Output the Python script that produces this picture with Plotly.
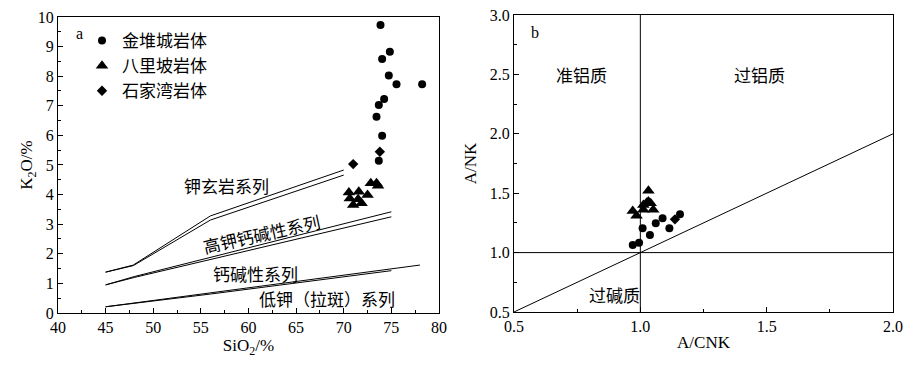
import plotly.graph_objects as go

# ---------------- data: panel a (SiO2 vs K2O) ----------------
jdc_sio2 = [73.86, 74.84, 74.03, 74.73, 75.54, 78.23, 74.24, 73.68, 73.44, 74.03, 73.68]
jdc_k2o = [9.73, 8.83, 8.58, 8.02, 7.73, 7.73, 7.23, 7.03, 6.63, 5.99, 5.14]
blp_sio2 = [72.84, 73.44, 73.6, 70.54, 71.58, 72.5, 70.64, 71.51, 71.87, 70.99]
blp_k2o = [4.38, 4.38, 4.30, 4.07, 4.10, 3.99, 3.87, 3.84, 3.71, 3.65]
sjw_sio2 = [70.99, 73.79]
sjw_k2o = [5.03, 5.45]

# boundary lines (double lines) of Peccerillo & Taylor diagram
sho_up_x = [45, 47.9, 56, 70]
sho_up_y = [1.38, 1.62, 3.28, 4.83]
sho_lo_x = [45, 47.9, 56, 70]
sho_lo_y = [1.38, 1.60, 3.14, 4.66]
hk_up_x = [45, 48, 75]
hk_up_y = [0.95, 1.23, 3.42]
hk_lo_x = [45, 48, 75]
hk_lo_y = [0.95, 1.20, 3.25]
lk_up_x = [45, 56, 78]
lk_up_y = [0.21, 0.68, 1.62]
lk_lo_x = [45, 56, 75]
lk_lo_y = [0.21, 0.64, 1.43]

series_names = ["金堆城岩体", "八里坡岩体", "石家湾岩体"]
field_labels_a = ["钾玄岩系列", "高钾钙碱性系列", "钙碱性系列", "低钾（拉斑）系列"]

# ---------------- data: panel b (A/CNK vs A/NK) ----------------
jdc_acnk = [0.97, 0.995, 1.009, 1.038, 1.061, 1.088, 1.115, 1.157]
jdc_ank = [1.064, 1.083, 1.205, 1.148, 1.247, 1.289, 1.205, 1.322]
blp_acnk = [0.97, 0.985, 1.032, 1.025, 1.041, 1.051, 1.012, 1.012, 1.032]
blp_ank = [1.35, 1.31, 1.52, 1.42, 1.415, 1.36, 1.36, 1.40, 1.43]
sjw_acnk = [1.137]
sjw_ank = [1.28]

vline_x = [1.0, 1.0]
vline_y = [0.5, 3.0]
hline_x = [0.5, 2.0]
hline_y = [1.0, 1.0]
diag_x = [0.5, 2.0]
diag_y = [0.5, 2.0]
field_labels_b = ["准铝质", "过铝质", "过碱质"]

SERIF = "Liberation Serif, Times New Roman, serif"
CJK = "Noto Sans CJK SC"

fig = go.Figure()

line_style = dict(color="black", width=1)
for xs, ys in [(sho_up_x, sho_up_y), (sho_lo_x, sho_lo_y), (hk_up_x, hk_up_y),
               (hk_lo_x, hk_lo_y), (lk_up_x, lk_up_y), (lk_lo_x, lk_lo_y)]:
    fig.add_trace(go.Scatter(x=xs, y=ys, mode="lines", line=line_style,
                             showlegend=False, hoverinfo="skip", xaxis="x", yaxis="y"))

fig.add_trace(go.Scatter(x=jdc_sio2, y=jdc_k2o, mode="markers", name=series_names[0],
                         legendgroup="g1",
                         marker=dict(symbol="circle", size=8, color="black"),
                         xaxis="x", yaxis="y"))
fig.add_trace(go.Scatter(x=blp_sio2, y=blp_k2o, mode="markers", name=series_names[1],
                         legendgroup="g2",
                         marker=dict(symbol="triangle-up", size=11, color="black"),
                         xaxis="x", yaxis="y"))
fig.add_trace(go.Scatter(x=sjw_sio2, y=sjw_k2o, mode="markers", name=series_names[2],
                         legendgroup="g3",
                         marker=dict(symbol="diamond", size=8, color="black"),
                         xaxis="x", yaxis="y"))

# panel b
for xs, ys in [(vline_x, vline_y), (hline_x, hline_y), (diag_x, diag_y)]:
    fig.add_trace(go.Scatter(x=xs, y=ys, mode="lines", line=line_style,
                             showlegend=False, hoverinfo="skip", xaxis="x2", yaxis="y2"))
fig.add_trace(go.Scatter(x=jdc_acnk, y=jdc_ank, mode="markers", showlegend=False,
                         marker=dict(symbol="circle", size=8, color="black"),
                         xaxis="x2", yaxis="y2"))
fig.add_trace(go.Scatter(x=blp_acnk, y=blp_ank, mode="markers", showlegend=False,
                         marker=dict(symbol="triangle-up", size=11, color="black"),
                         xaxis="x2", yaxis="y2"))
fig.add_trace(go.Scatter(x=sjw_acnk, y=sjw_ank, mode="markers", showlegend=False,
                         marker=dict(symbol="diamond", size=8, color="black"),
                         xaxis="x2", yaxis="y2"))

axis_common = dict(showline=True, linecolor="black", linewidth=1.3, mirror=True,
                   ticks="inside", ticklen=5, tickcolor="black", tickwidth=1,
                   showgrid=False, zeroline=False, automargin=False,
                   ticklabeloverflow="allow",
                   tickfont=dict(family=SERIF, size=16, color="black"))

title_font = dict(family=SERIF, size=17, color="black")

fig.update_layout(
    width=916, height=374,
    margin=dict(l=0, r=0, t=0, b=0, autoexpand=False),
    paper_bgcolor="white", plot_bgcolor="white",
    font=dict(family=SERIF, color="black"),
    xaxis=dict(domain=[0.05459, 0.47052], range=[40, 80], dtick=5, tick0=40,
               minor=dict(ticks="inside", ticklen=3, dtick=2.5, tickcolor="black"),
               title=dict(text="SiO<sub>2</sub>/%", font=title_font, standoff=1),
               **axis_common),
    yaxis=dict(domain=[0.18449, 0.97594], range=[0, 10], dtick=1, tick0=0,
               minor=dict(ticks="inside", ticklen=3, dtick=0.5, tickcolor="black"),
               title=dict(text="K<sub>2</sub>O/%", font=title_font, standoff=0),
               **axis_common),
    xaxis2=dict(domain=[0.55240, 0.96616], range=[0.5, 2.0], dtick=0.5, tick0=0.5,
                tickformat=".1f", anchor="y2",
                minor=dict(ticks="inside", ticklen=3, dtick=0.25, tickcolor="black"),
                title=dict(text="A/CNK", font=title_font, standoff=1),
                **axis_common),
    yaxis2=dict(domain=[0.18717, 0.98128], range=[0.5, 3.0], dtick=0.5, tick0=0.5,
                tickformat=".1f", anchor="x2",
                minor=dict(ticks="inside", ticklen=3, dtick=0.25, tickcolor="black"),
                title=dict(text="A/NK", font=title_font, standoff=8),
                **axis_common),
    legend=dict(x=74 / 916, y=1 - 15 / 374, xanchor="left", yanchor="top",
                bgcolor="rgba(0,0,0,0)", borderwidth=0,
                font=dict(family=CJK, size=17, color="black"),
                tracegroupgap=0, itemsizing="trace"),
)

ann_font = dict(family=CJK, size=17, color="black")
# panel a field labels
fig.add_annotation(x=57.7, y=4.32, xref="x", yref="y", text=field_labels_a[0],
                   showarrow=False, font=ann_font)
fig.add_annotation(x=61.4, y=2.69, xref="x", yref="y", text=field_labels_a[1],
                   showarrow=False, font=ann_font, textangle=-12.5)
fig.add_annotation(x=60.7, y=1.34, xref="x", yref="y", text=field_labels_a[2],
                   showarrow=False, font=ann_font)
fig.add_annotation(x=68.2, y=0.5, xref="x", yref="y", text=field_labels_a[3],
                   showarrow=False, font=ann_font)
fig.add_annotation(x=42.3, y=9.43, xref="x", yref="y", text="a",
                   showarrow=False, font=dict(family=SERIF, size=16, color="black"))
# panel b field labels
fig.add_annotation(x=0.768, y=2.5, xref="x2", yref="y2", text=field_labels_b[0],
                   showarrow=False, font=ann_font)
fig.add_annotation(x=1.47, y=2.5, xref="x2", yref="y2", text=field_labels_b[1],
                   showarrow=False, font=ann_font)
fig.add_annotation(x=0.897, y=0.65, xref="x2", yref="y2", text=field_labels_b[2],
                   showarrow=False, font=ann_font)
fig.add_annotation(x=0.583, y=2.85, xref="x2", yref="y2", text="b",
                   showarrow=False, font=dict(family=SERIF, size=16, color="black"))

fig.write_html("out.html")
